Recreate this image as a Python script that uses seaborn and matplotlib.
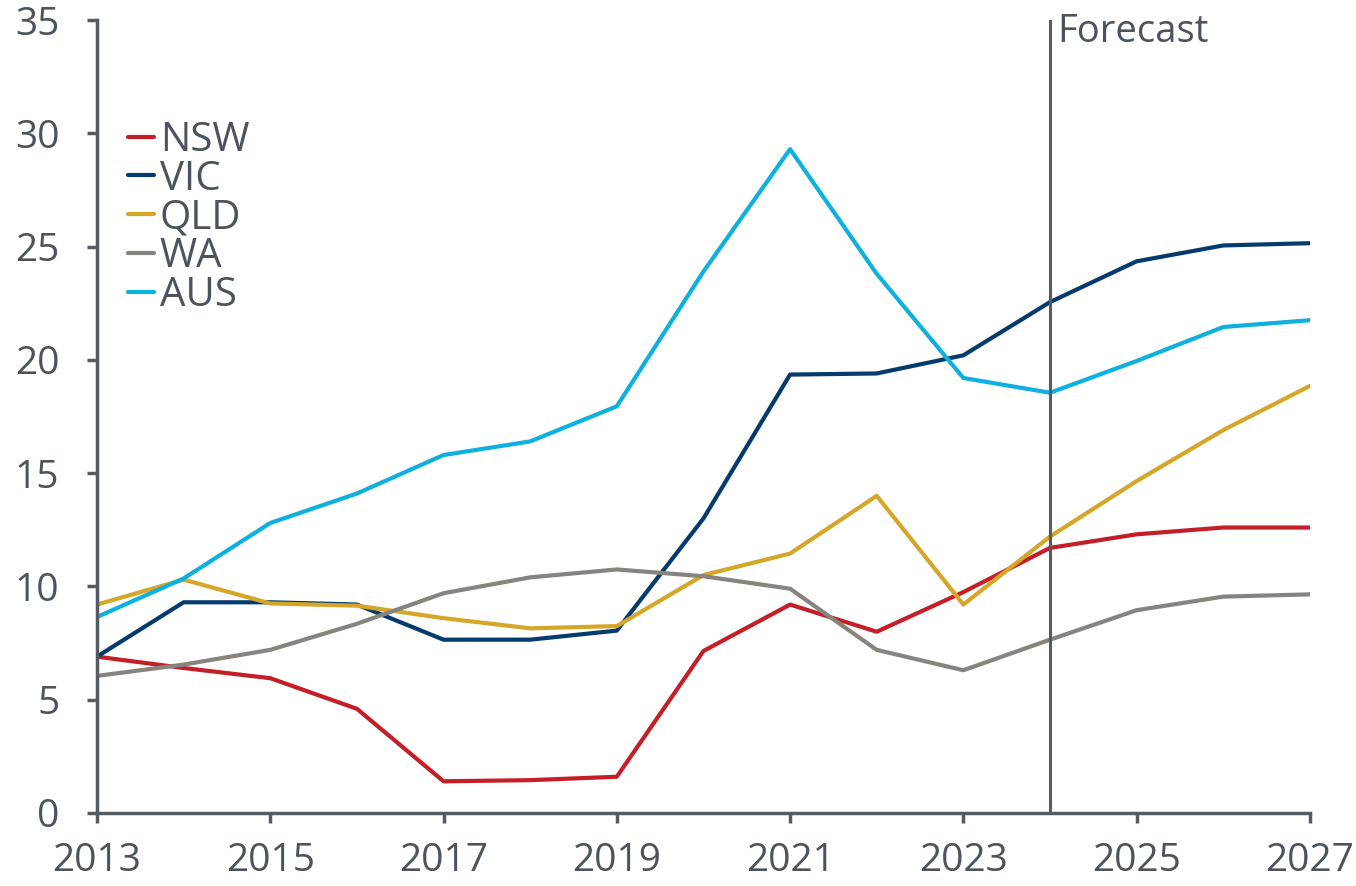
import numpy as np
import pandas as pd
import matplotlib
matplotlib.use('Agg')
import matplotlib.pyplot as plt
import seaborn as sns

# Dados
years = list(range(2013, 2028))
nsw = [6.9, 6.4, 5.95, 4.6, 1.4, 1.45, 1.6, 7.15, 9.2, 8.0, 9.75, 11.7, 12.3, 12.6, 12.6]
vic = [6.9, 9.3, 9.3, 9.2, 7.65, 7.65, 8.05, 13.0, 19.35, 19.4, 20.2, 22.55, 24.35, 25.05, 25.15]
qld = [9.2, 10.3, 9.25, 9.15, 8.6, 8.15, 8.25, 10.5, 11.45, 14.0, 9.2, 12.2, 14.65, 16.9, 18.85]
wa = [6.05, 6.55, 7.2, 8.35, 9.7, 10.4, 10.75, 10.45, 9.9, 7.2, 6.3, 7.65, 8.95, 9.55, 9.65]
aus = [8.65, 10.35, 12.8, 14.1, 15.8, 16.4, 17.95, 23.9, 29.3, 23.8, 19.2, 18.55, 19.95, 21.45, 21.75]

series = {'NSW': nsw, 'VIC': vic, 'QLD': qld, 'WA': wa, 'AUS': aus}
colors = {'NSW': '#c41e26', 'VIC': '#043a6d', 'QLD': '#d5a628', 'WA': '#85847f', 'AUS': '#0db0df'}
forecast_year = 2024
x_ticks = [2013, 2015, 2017, 2019, 2021, 2023, 2025, 2027]
y_ticks = [0, 5, 10, 15, 20, 25, 30, 35]

df = pd.concat([pd.DataFrame({'year': years, 'value': v, 'state': k}) for k, v in series.items()])

sns.set_style('white')
plt.rcParams['font.family'] = ['Open Sans', 'DejaVu Sans']
text_c = '#4b535d'
axis_c = '#555b63'

fig = plt.figure(figsize=(13.56, 8.86), dpi=100)
ax = fig.add_axes([0.0715, 0.0824, 0.8945, 0.8950])

sns.lineplot(data=df, x='year', y='value', hue='state', palette=colors,
             linewidth=3, ax=ax, legend=True)

ax.axvline(forecast_year, color=axis_c, linewidth=2.2, zorder=5)
ax.text(forecast_year + 0.08, 35.3, 'Forecast', fontsize=27.5, color=text_c,
        va='top', ha='left')

ax.set_xlim(2013, 2027)
ax.set_ylim(0, 35)
ax.set_xticks(x_ticks)
ax.set_yticks(y_ticks)
ax.set_xlabel('')
ax.set_ylabel('')

for s in ['top', 'right']:
    ax.spines[s].set_visible(False)
for s in ['left', 'bottom']:
    ax.spines[s].set_color(axis_c)
    ax.spines[s].set_linewidth(2.5)

ax.tick_params(axis='both', colors=axis_c, labelcolor=text_c, labelsize=28,
               length=7, width=2.5, direction='out', bottom=True, left=True)
ax.tick_params(axis='x', pad=14)
ax.tick_params(axis='y', pad=20)

leg = ax.legend(loc='upper left', bbox_to_anchor=(0.012, 0.894), frameon=False,
                fontsize=29, handlelength=0.65, handletextpad=0.15,
                labelspacing=-0.04, borderaxespad=0)
for t in leg.get_texts():
    t.set_color(text_c)
for h in leg.get_lines():
    h.set_linewidth(3)

fig.savefig('out.png', dpi=100)
